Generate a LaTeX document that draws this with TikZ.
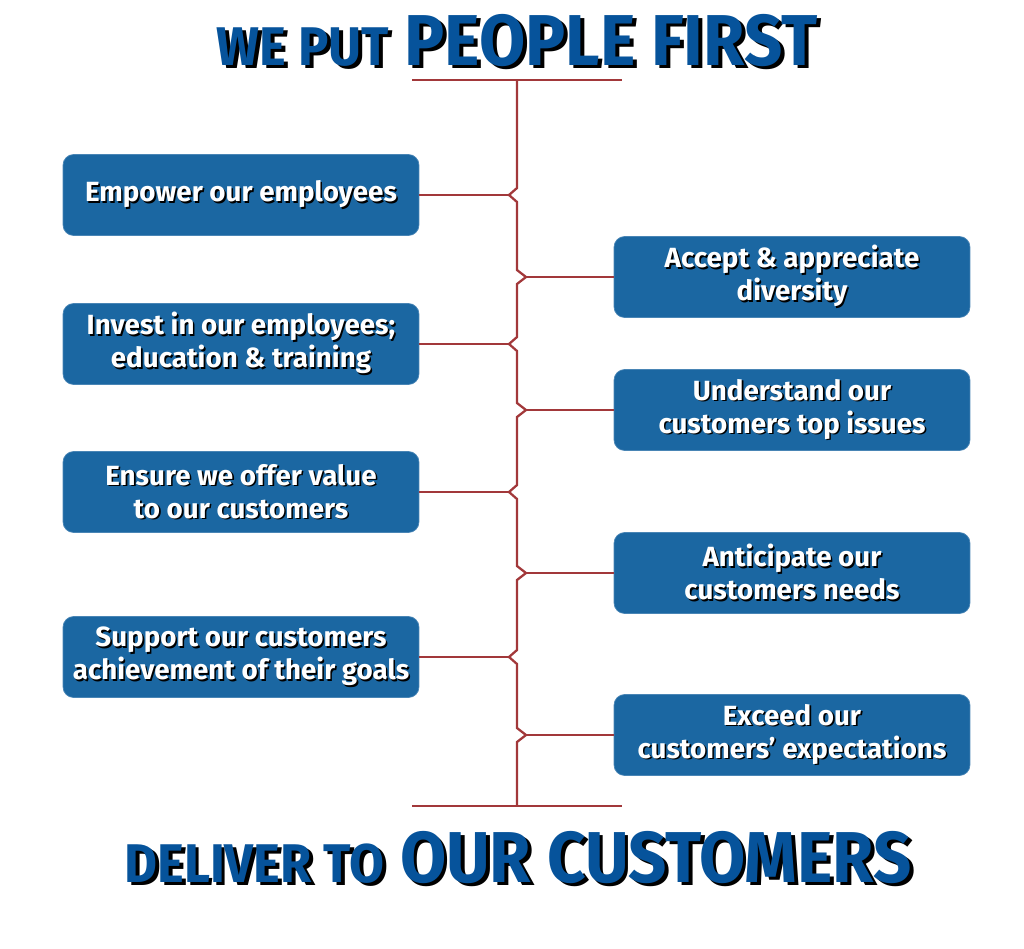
\documentclass[tikz,border=0pt]{standalone}
\usepackage{fontspec}
\usepackage{xcolor}
\usepackage{tikz}
\usetikzlibrary{positioning, calc}
\setmainfont{Fira Sans}
\newfontfamily\titlefont{Fira Sans}[FakeStretch=0.93]
\definecolor{titleblue}{RGB}{6,83,155}
\definecolor{boxblue}{RGB}{27,103,162}
\definecolor{linkred}{RGB}{162,56,58}
% white text with a small dark drop shadow
\newcommand{\shtxt}[1]{\leavevmode\rlap{\kern0.9pt\raisebox{-0.9pt}{\color{black}#1}}#1}
% title text with a heavier drop shadow
\newcommand{\shtitle}[1]{\leavevmode\rlap{\kern2.2pt\raisebox{-2.2pt}{\color{black}#1}}#1}
\tikzstyle{goal}  = [rectangle, rounded corners=6pt, fill=boxblue, draw=boxblue!80!white,
                     minimum width=7.12cm, minimum height=1.62cm, align=center,
                     text=white, font=\bfseries\fontsize{15.8}{18.8}\selectfont, inner sep=2pt]
\tikzstyle{link}  = [linkred, line width=1.3pt]

\begin{document}
\begin{tikzpicture}[x=0.02cm, y=-0.02cm]
    \useasboundingbox (0,0) rectangle (1024,948);

    % titles
    \node[anchor=base, text=titleblue, inner sep=0pt] (head) at (517,65)
      {\titlefont\bfseries{\fontsize{31}{31}\selectfont\shtitle{WE PUT}}\hspace{9pt}%
       {\fontsize{41}{41}\selectfont\shtitle{PEOPLE FIRST}}};
    \node[anchor=base, text=titleblue, inner sep=0pt] (foot) at (518,882)
      {\titlefont\bfseries{\fontsize{31}{31}\selectfont\shtitle{DELIVER TO}}\hspace{9pt}%
       {\fontsize{41}{41}\selectfont\shtitle{OUR CUSTOMERS}}};

    % goals, left column
    \node[goal] (e1) at (241,195) {\shtxt{Empower our employees}};
    \node[goal] (e2) at (241,344) {\shtxt{Invest in our employees;}\\\shtxt{education \& training}};
    \node[goal] (e3) at (241,492) {\shtxt{Ensure we offer value}\\\shtxt{to our customers}};
    \node[goal] (e4) at (241,657) {\shtxt{Support our customers}\\\shtxt{achievement of their goals}};

    % goals, right column
    \node[goal] (c1) at (792,277) {\shtxt{Accept \& appreciate}\\\shtxt{diversity}};
    \node[goal] (c2) at (792,410) {\shtxt{Understand our}\\\shtxt{customers top issues}};
    \node[goal] (c3) at (792,573) {\shtxt{Anticipate our}\\\shtxt{customers needs}};
    \node[goal] (c4) at (792,735) {\shtxt{Exceed our}\\\shtxt{customers' expectations}};

    % spine ends and notch tips
    \coordinate (top) at (517,80);
    \coordinate (bot) at (517,806);
    \coordinate (tl) at (412,80);  \coordinate (tr) at (622,80);
    \coordinate (bl) at (412,806); \coordinate (br) at (622,806);
    \foreach \n/\y in {1/195, 2/344, 3/492, 4/657}
      \coordinate (je\n) at (509,\y);
    \foreach \n/\y in {1/277, 2/410, 3/573, 4/735}
      \coordinate (jc\n) at (526,\y);

    \draw[link] (tl) -- (tr);
    \draw[link] (bl) -- (br);
    \draw[link] (top)
      \foreach \y/\d in {195/-8, 277/9, 344/-8, 410/9, 492/-8, 573/9, 657/-8, 735/9}
        { -- (517,\y-7) -- (517+\d,\y) -- (517,\y+7) }
      -- (bot);

    % branches
    \foreach \n in {1,...,4} {
      \draw[link] (e\n.east) -- (je\n);
      \draw[link] (c\n.west) -- (jc\n);
    }
\end{tikzpicture}
\end{document}
